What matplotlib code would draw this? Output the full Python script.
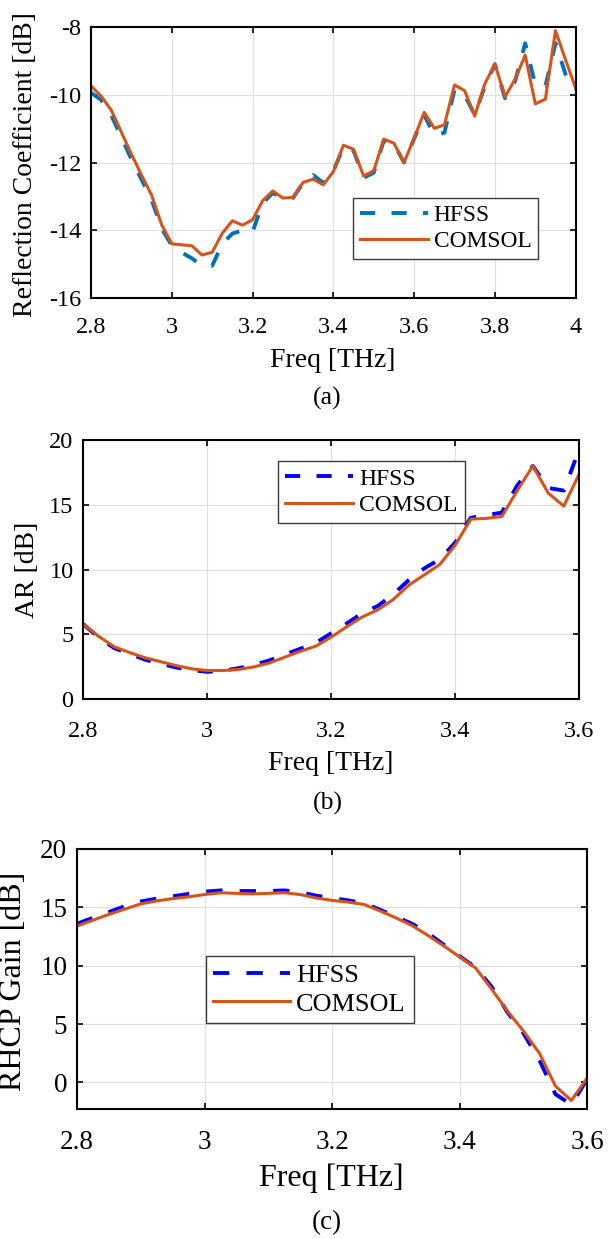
import numpy as np
import matplotlib
matplotlib.use("Agg")
import matplotlib.pyplot as plt
from matplotlib.ticker import FuncFormatter

plt.rcParams['font.family'] = ['Liberation Serif', 'DejaVu Serif']
plt.rcParams['axes.unicode_minus'] = False

# ---------------- data ----------------
freq_a = [2.8, 2.825, 2.85, 2.875, 2.9, 2.925, 2.95, 2.975, 3.0, 3.025, 3.05, 3.075,
          3.1, 3.125, 3.15, 3.175, 3.2, 3.225, 3.25, 3.275, 3.3, 3.325, 3.35, 3.375,
          3.4, 3.425, 3.45, 3.475, 3.5, 3.525, 3.55, 3.575, 3.6, 3.625, 3.65, 3.675,
          3.7, 3.725, 3.75, 3.775, 3.8, 3.825, 3.85, 3.875, 3.9, 3.925, 3.95, 3.975, 4.0]
refl_hfss = [-9.94, -10.15, -10.6, -11.25, -11.9, -12.5, -13.1, -13.95, -14.45, -14.66,
             -14.83, -15.05, -15.05, -14.4, -14.1, -14.0, -14.05, -13.2, -12.9, -13.05,
             -13.05, -12.6, -12.37, -12.6, -12.25, -11.55, -11.65, -12.45, -12.3, -11.35,
             -11.45, -12.0, -11.3, -10.6, -11.2, -11.12, -9.85, -10.0, -10.6, -9.75,
             -9.1, -10.1, -9.6, -8.48, -9.71, -9.75, -8.48, -9.4, -9.85]
refl_comsol = [-9.74, -10.04, -10.45, -11.1, -11.75, -12.37, -12.96, -13.84, -14.40, -14.43,
               -14.46, -14.73, -14.65, -14.09, -13.72, -13.85, -13.69, -13.13, -12.84, -13.05,
               -13.03, -12.59, -12.49, -12.66, -12.27, -11.49, -11.61, -12.40, -12.24, -11.31,
               -11.43, -12.0, -11.28, -10.52, -10.99, -10.89, -9.71, -9.88, -10.63, -9.68,
               -9.09, -10.06, -9.54, -8.83, -10.27, -10.13, -8.11, -8.97, -9.81]

freq_bc = [2.8, 2.825, 2.85, 2.875, 2.9, 2.925, 2.95, 2.975, 3.0, 3.025, 3.05, 3.075,
           3.1, 3.125, 3.15, 3.175, 3.2, 3.225, 3.25, 3.275, 3.3, 3.325, 3.35, 3.375,
           3.4, 3.425, 3.45, 3.475, 3.5, 3.525, 3.55, 3.575, 3.6]
ar_hfss = [5.8, 4.75, 3.95, 3.5, 3.05, 2.75, 2.45, 2.25, 2.12, 2.2, 2.4, 2.65,
           3.0, 3.45, 3.9, 4.35, 5.1, 5.85, 6.65, 7.2, 8.1, 9.2, 10.1, 10.8,
           12.1, 14.0, 14.2, 14.4, 16.5, 18.0, 16.3, 16.1, 19.3]
ar_comsol = [5.8, 4.85, 4.05, 3.6, 3.2, 2.9, 2.6, 2.35, 2.22, 2.22, 2.3, 2.5,
             2.8, 3.25, 3.7, 4.1, 4.8, 5.6, 6.35, 6.9, 7.7, 8.8, 9.6, 10.4,
             11.9, 13.9, 13.95, 14.1, 16.1, 18.0, 15.9, 14.9, 17.4]
gain_hfss = [13.6, 14.1, 14.6, 15.1, 15.5, 15.75, 15.95, 16.15, 16.35, 16.45, 16.4, 16.4,
             16.4, 16.45, 16.3, 16.0, 15.8, 15.6, 15.35, 14.8, 14.2, 13.6, 12.8, 11.8,
             10.8, 9.85, 8.2, 6.0, 4.2, 1.9, -1.0, -1.9, 0.3]
gain_comsol = [13.4, 13.9, 14.4, 14.85, 15.3, 15.55, 15.75, 15.9, 16.1, 16.25, 16.2, 16.15,
               16.2, 16.25, 16.1, 15.8, 15.6, 15.45, 15.25, 14.7, 14.1, 13.45, 12.6, 11.7,
               10.75, 9.8, 8.0, 6.1, 4.4, 2.5, -0.3, -1.55, 0.4]

series_labels = ['HFSS', 'COMSOL']
xlabel = 'Freq [THz]'
ylabels = ['Reflection Coefficient [dB]', 'AR [dB]', 'RHCP Gain [dB]']
sublabels = ['(a)', '(b)', '(c)']

# ---------------- figure ----------------
W, H = 611, 1239
fig = plt.figure(figsize=(W / 100, H / 100), dpi=100)

def px_axes(l, t, r, b):
    return fig.add_axes([l / W, 1 - b / H, (r - l) / W, (b - t) / H])

ORANGE = '#D95319'
GRID = '#DEDEDE'
fmt = FuncFormatter(lambda v, p: '%g' % round(v, 6))


def style(ax, tick_fs, xpad):
    ax.grid(True, color=GRID, linewidth=0.8)
    ax.set_axisbelow(True)
    for s in ax.spines.values():
        s.set_linewidth(1.5)
        s.set_color('black')
    ax.tick_params(direction='in', top=True, right=True, length=4, width=1.2,
                   labelsize=tick_fs, colors='black')
    ax.tick_params(axis='x', pad=xpad)
    ax.tick_params(axis='y', pad=7)
    ax.xaxis.set_major_formatter(fmt)
    ax.yaxis.set_major_formatter(fmt)


def legend(ax, fs, x0, y0, hl):
    lg = ax.legend(loc='upper left', bbox_to_anchor=(x0, y0), fontsize=fs,
                   frameon=True, fancybox=False, framealpha=1, edgecolor='#3a3a3a',
                   handlelength=hl, handletextpad=0.25, borderpad=0.3,
                   labelspacing=0.2, borderaxespad=0)
    lg.get_frame().set_linewidth(1.0)
    return lg


# ---- (a)
ax1 = px_axes(91, 27, 575.7, 298)
ax1.plot(freq_a, refl_hfss, color='#0072BD', lw=2.8, linestyle=(0, (3.9, 4.2)),
         label=series_labels[0])
ax1.plot(freq_a, refl_comsol, color=ORANGE, lw=2.2, label=series_labels[1])
ax1.set_xlim(2.8, 4.0)
ax1.set_ylim(-16, -8)
ax1.set_xticks(np.arange(2.8, 4.01, 0.2))
ax1.set_yticks(np.arange(-16, -7.9, 2))
style(ax1, 17.5, 14)
legend(ax1, 16.8, 0.541, 0.369, 2.9)
ax1.set_xlabel(xlabel, fontsize=20, ha='center', va='center')
ax1.xaxis.set_label_coords(0.4993, -0.2288)
ax1.set_ylabel(ylabels[0], fontsize=20, ha='center', va='center')
ax1.yaxis.set_label_coords(-0.136, 0.4908)
fig.text(327 / W, 1 - 398 / H, sublabels[0], fontsize=18.5, ha='center', va='center')

# ---- (b)
ax2 = px_axes(83.3, 440, 579.3, 699.3)
ax2.plot(freq_bc, ar_hfss, color='#0000FF', lw=2.8, linestyle=(0, (3.9, 4.2)),
         label=series_labels[0])
ax2.plot(freq_bc, ar_comsol, color=ORANGE, lw=2.2, label=series_labels[1])
ax2.set_xlim(2.8, 3.6)
ax2.set_ylim(0, 20)
ax2.set_xticks(np.arange(2.8, 3.61, 0.2))
ax2.set_yticks(np.arange(0, 20.1, 5))
style(ax2, 17.5, 15.5)
legend(ax2, 17.0, 0.392, 0.919, 2.9)
ax2.set_xlabel(xlabel, fontsize=20, ha='center', va='center')
ax2.xaxis.set_label_coords(0.4994, -0.2457)
ax2.set_ylabel(ylabels[1], fontsize=20, ha='center', va='center')
ax2.yaxis.set_label_coords(-0.1125, 0.4987)
fig.text(328 / W, 1 - 803 / H, sublabels[1], fontsize=18.5, ha='center', va='center')

# ---- (c)
ax3 = px_axes(77, 849, 587.3, 1109.3)
ax3.plot(freq_bc, gain_hfss, color='#0000FF', lw=2.8, linestyle=(0, (4.2, 4.4)),
         label=series_labels[0])
ax3.plot(freq_bc, gain_comsol, color=ORANGE, lw=2.2, label=series_labels[1])
ax3.set_xlim(2.8, 3.6)
ax3.set_ylim(-2.3, 20)
ax3.set_xticks(np.arange(2.8, 3.61, 0.2))
ax3.set_yticks(np.arange(0, 20.1, 5))
style(ax3, 19.5, 15)
legend(ax3, 18.9, 0.252, 0.590, 2.9)
ax3.set_xlabel(xlabel, fontsize=23, ha='center', va='center')
ax3.xaxis.set_label_coords(0.4977, -0.2639)
ax3.set_ylabel(ylabels[2], fontsize=23, ha='center', va='center')
ax3.yaxis.set_label_coords(-0.1244, 0.4929)
fig.text(327 / W, 1 - 1223 / H, sublabels[2], fontsize=19.5, ha='center', va='center')

fig.savefig('out.png', dpi=100)
